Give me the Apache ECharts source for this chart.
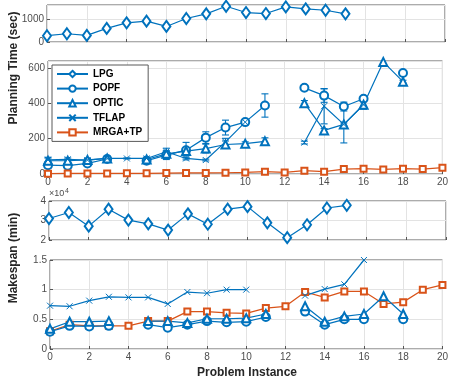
<!DOCTYPE html>
<html>
<head>
<meta charset="utf-8">
<script src="https://cdn.jsdelivr.net/npm/echarts@6/dist/echarts.min.js"></script>
<style>
  html, body { margin: 0; padding: 0; background: #fff; }
  #chart { width: 451px; height: 385px; }
</style>
</head>
<body>
<div id="chart"></div>
<script>
// problem instances 0..20
const instances = [0,1,2,3,4,5,6,7,8,9,10,11,12,13,14,15,16,17,18,19,20]

// planning time (sec)
const lpgTime   = [275, 362, 290, 594, 840, 913, 681, 1029, 1232, 1565, 1290, 1246, 1536, 1449, 1391, 1232]
const popfTime  = [50, 47, 60, 85, null, 75, 107, 135, 206, 263, 294, 388, null, 488, 444, 382, 426, null, 572, null, null]
const popfErr   = [15, 10, 12, 8, 0, 12, 25, 44, 33, 42, 8, 66, 0, 8, 38, 25, 10, 0, 12, 0, 0]
const opticTime = [75, 75, 80, 88, null, 82, 114, 130, 144, 167, 172, 185, null, 401, 247, 281, 392, 635, 523, null, null]
const opticErr  = [20, 8, 10, 10, 0, 10, 15, 20, 25, 20, 10, 20, 0, 15, 10, 8, 25, 0, 8, 0, 0]
const tflapTime = [80, 83, 79, 88, 88, 88, 126, 88, 79, 182, 294, null, null, 178, 384, 281, 392, null, null, null, null]
const tflapErr  = [10, 8, 8, 5, 3, 8, 20, 8, 5, 20, 8, 0, 0, 8, 100, 105, 20, 0, 0, 0, 0]
const mrgaTime  = [2, 3, 3, 3, 4, 4, 5, 6, 6, 7, 9, 13, 9, 19, 13, 28, 30, 26, 30, 28, 36]

// makespan (min)
const lpgSpan   = [31000, 34100, 27100, 35800, 30200, 28300, 25100, 33400, 28100, 35800, 37100, 28800, 21200, 27800, 36400, 37800]
const popfSpan  = [0.29, 0.39, 0.38, 0.39, null, 0.41, 0.36, 0.41, 0.47, 0.45, 0.46, 0.54, null, 0.63, 0.41, 0.50, 0.50, null, 0.50, null, null]
const opticSpan = [0.34, 0.46, 0.46, 0.47, null, 0.47, 0.47, 0.44, 0.51, 0.51, 0.52, 0.59, null, 0.72, 0.46, 0.55, 0.59, 0.89, 0.59, null, null]
const tflapSpan = [0.73, 0.72, 0.815, 0.88, 0.87, 0.87, 0.76, 0.96, 0.94, 1.0, 1.0, null, null, 0.90, 1.01, 1.09, 1.5, null, null, null, null]
const mrgaSpan  = [0.30, 0.41, 0.39, 0.39, 0.39, 0.47, 0.47, 0.63, 0.63, 0.61, 0.60, 0.69, 0.72, 0.96, 0.87, 0.97, 0.97, 0.76, 0.79, 1.0, 1.08]

const BLUE = '#0072BD'
const ORANGE = '#D95319'
const FONT = '"Liberation Sans", Arial, sans-serif'
const xSymbol = 'path://M0,0L10,10M10,0L0,10'

let myChart = echarts.init(document.getElementById('chart'))

function pairs(arr) {
  return arr.map((v, i) => [instances[i], v == null ? '-' : v])
}
function errData(vals, errs) {
  let out = []
  vals.forEach((v, i) => {
    if (v != null && errs[i] > 0) out.push([instances[i], v - errs[i], v + errs[i]])
  })
  return out
}

function xAxis(idx, showLabel) {
  return {
    type: 'value', gridIndex: idx, min: 0, max: 20, interval: 2,
    axisLine: { show: false },
    axisTick: { show: true, inside: true, length: 3, lineStyle: { color: '#555' } },
    axisLabel: { show: showLabel, fontSize: 10, color: '#4d4d4d', fontFamily: FONT, margin: 3 },
    splitLine: { show: true, lineStyle: { color: '#e3e3e3', width: 1 } }
  }
}
function yAxis(idx, min, max, interval, fmt) {
  return {
    type: 'value', gridIndex: idx, min: min, max: max, interval: interval,
    axisLine: { show: false },
    axisTick: { show: true, inside: true, length: 3, lineStyle: { color: '#555' } },
    axisLabel: {
      fontSize: 10, color: '#4d4d4d', fontFamily: FONT, margin: 3,
      showMaxLabel: max % interval === 0,
      formatter: fmt || (v => String(v))
    },
    splitLine: { show: true, lineStyle: { color: '#e3e3e3', width: 1 } }
  }
}

function lineSeries(name, data, xi, symbol, size, color) {
  return {
    name: name, type: 'line', xAxisIndex: xi, yAxisIndex: xi,
    data: pairs(data), symbol: symbol, symbolSize: size,
    showAllSymbol: true, connectNulls: false, clip: true,
    lineStyle: { color: color, width: 1.2 },
    itemStyle: { color: color, borderColor: color, borderWidth: 1 },
    emphasis: { disabled: true }, z: 3
  }
}
function errSeries(name, data, xi, color) {
  return {
    name: name, type: 'custom', xAxisIndex: xi, yAxisIndex: xi,
    data: data, encode: { x: 0, y: [1, 2] }, z: 2,
    renderItem: (params, api) => {
      let lo = api.coord([api.value(0), api.value(1)])
      let hi = api.coord([api.value(0), api.value(2)])
      let w = 3.5
      return {
        type: 'group',
        children: [
          { type: 'line', shape: { x1: lo[0], y1: lo[1], x2: hi[0], y2: hi[1] }, style: { stroke: color, lineWidth: 1.1 } },
          { type: 'line', shape: { x1: lo[0] - w, y1: lo[1], x2: lo[0] + w, y2: lo[1] }, style: { stroke: color, lineWidth: 1.1 } },
          { type: 'line', shape: { x1: hi[0] - w, y1: hi[1], x2: hi[0] + w, y2: hi[1] }, style: { stroke: color, lineWidth: 1.1 } }
        ]
      }
    }
  }
}

const gridStyle = { show: true, borderColor: '#595959', borderWidth: 1, backgroundColor: '#fff' }

let option = {
  animation: false,
  textStyle: { fontFamily: FONT },
  grid: [
    Object.assign({ left: 47, top: 5, width: 398, height: 37 }, gridStyle),
    Object.assign({ left: 48, top: 61, width: 398, height: 113 }, gridStyle),
    Object.assign({ left: 49, top: 201, width: 397, height: 39 }, gridStyle),
    Object.assign({ left: 50, top: 260, width: 399, height: 89 }, gridStyle)
  ],
  xAxis: [xAxis(0, false), xAxis(1, true), xAxis(2, false), xAxis(3, true)],
  yAxis: [
    yAxis(0, 0, 1620, 1000),
    yAxis(1, 0, 640, 200),
    yAxis(2, 20000, 40000, 10000, v => String(v / 10000)),
    yAxis(3, 0, 1.5, 0.5)
  ],
  legend: {
    data: ['LPG', 'POPF', 'OPTIC', 'TFLAP', 'MRGA+TP'],
    orient: 'vertical', left: 52, top: 65,
    itemWidth: 31, itemHeight: 8, itemGap: 4.6,
    padding: [4, 6, 4, 4],
    backgroundColor: '#fff', borderColor: '#595959', borderWidth: 1,
    textStyle: { fontSize: 10, fontWeight: 'bold', color: '#000', fontFamily: FONT },
    selectedMode: false
  },
  graphic: [
    { type: 'text', x: 14, y: 68, rotation: Math.PI / 2, style: { text: 'Planning Time (sec)', font: 'bold 12px ' + FONT, fill: '#262626', textAlign: 'center', textVerticalAlign: 'middle' } },
    { type: 'text', x: 14, y: 258, rotation: Math.PI / 2, style: { text: 'Makespan (min)', font: 'bold 12px ' + FONT, fill: '#262626', textAlign: 'center', textVerticalAlign: 'middle' } },
    { type: 'text', x: 247, y: 373, style: { text: 'Problem Instance', font: 'bold 12px ' + FONT, fill: '#262626', textAlign: 'center', textVerticalAlign: 'middle' } },
    { type: 'text', x: 49, y: 194, style: { text: '×10', font: '9px ' + FONT, fill: '#4d4d4d', textVerticalAlign: 'middle' } },
    { type: 'text', x: 65, y: 191, style: { text: '4', font: '7px ' + FONT, fill: '#4d4d4d', textVerticalAlign: 'middle' } }
  ],
  series: [
    lineSeries('LPG', lpgTime, 0, 'emptyDiamond', [8, 11], BLUE),

    errSeries('popfErr', errData(popfTime, popfErr), 1, BLUE),
    errSeries('opticErr', errData(opticTime, opticErr), 1, BLUE),
    errSeries('tflapErr', errData(tflapTime, tflapErr), 1, BLUE),
    lineSeries('POPF', popfTime, 1, 'emptyCircle', 8, BLUE),
    lineSeries('OPTIC', opticTime, 1, 'emptyTriangle', 8, BLUE),
    lineSeries('TFLAP', tflapTime, 1, xSymbol, 6, BLUE),
    lineSeries('MRGA+TP', mrgaTime, 1, 'emptyRect', 6, ORANGE),

    lineSeries('LPG', lpgSpan, 2, 'emptyDiamond', [8, 11], BLUE),

    lineSeries('MRGA+TP', mrgaSpan, 3, 'emptyRect', 6, ORANGE),
    lineSeries('POPF', popfSpan, 3, 'emptyCircle', 8, BLUE),
    lineSeries('OPTIC', opticSpan, 3, 'emptyTriangle', 8, BLUE),
    lineSeries('TFLAP', tflapSpan, 3, xSymbol, 6, BLUE)
  ]
}
myChart.setOption(option, true)
</script>
</body>
</html>
